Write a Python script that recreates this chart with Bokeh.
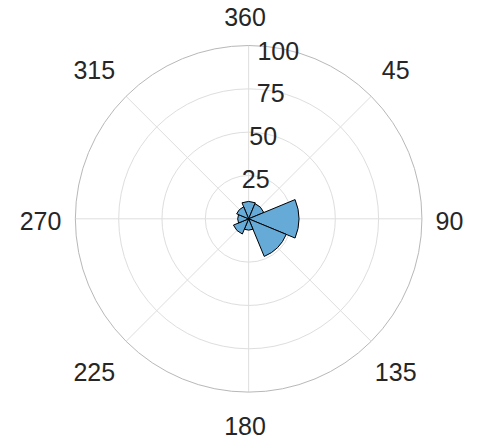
import numpy as np
from bokeh.plotting import figure
from bokeh.models import ColumnDataSource, Range1d
from bokeh.core.properties import value
from bokeh.embed import file_html
from bokeh.resources import INLINE

# ---- data (compass degrees, clockwise from north) ----
bin_centers = [0, 45, 90, 135, 180, 225, 270, 315]
bin_counts = [10, 9.5, 29, 23.5, 6.5, 9.5, 6.3, 7.5]
bin_width = 45
r_ticks = [25, 50, 75, 100]
theta_ticks = [0, 45, 90, 135, 180, 225, 270, 315]
theta_labels = ["360", "45", "90", "135", "180", "225", "270", "315"]
r_max = 100

FONT = "Liberation Sans"
TEXT_COLOR = "#262626"

p = figure(width=480, height=442, output_backend="svg", toolbar_location=None,
           x_range=Range1d(-143.2, 133.8), y_range=Range1d(-129.1, 126.0),
           min_border=0)
p.axis.visible = False
p.grid.visible = False
p.outline_line_color = None
p.background_fill_color = "white"

def to_math(theta_deg):
    return np.radians(90 - np.asarray(theta_deg, dtype=float))

# grid circles
p.circle(x=[0] * 3, y=[0] * 3, radius=r_ticks[:-1], fill_color=None,
         line_color="#dedede", line_width=1)
# spokes
ang = to_math(theta_ticks)
p.segment(x0=[0] * len(ang), y0=[0] * len(ang), x1=r_max * np.cos(ang), y1=r_max * np.sin(ang),
          line_color="#dedede", line_width=1)
# outer circle
p.circle(x=[0], y=[0], radius=[r_max], fill_color=None, line_color="#b8b8b8", line_width=1)

# bars
centers = np.asarray(bin_centers, dtype=float)
src = ColumnDataSource(dict(
    x=[0] * len(centers), y=[0] * len(centers), r=bin_counts,
    start=to_math(centers + bin_width / 2), end=to_math(centers - bin_width / 2)))
p.wedge(x="x", y="y", radius="r", start_angle="start", end_angle="end", source=src,
        fill_color="#66aad7", line_color="black", line_width=1)

# angular labels
lab_r = np.array([118 + (5 if t % 90 else 0) for t in theta_ticks], dtype=float)
lab_dx, lab_dy = -2.1, -1.3
p.text(x=lab_r * np.cos(ang) + lab_dx, y=lab_r * np.sin(ang) + lab_dy, text=theta_labels,
       text_font=value(FONT), text_font_size="25px", text_color=TEXT_COLOR,
       text_align="center", text_baseline="middle")

# radial labels
ra = np.radians(90 - 10)
rr = np.asarray(r_ticks, dtype=float) - 1.5
p.text(x=rr * np.cos(ra), y=rr * np.sin(ra), text=[str(v) for v in r_ticks],
       text_font=value(FONT), text_font_size="25px", text_color=TEXT_COLOR,
       text_align="center", text_baseline="middle")

open("out.html", "w").write(file_html(p, INLINE))
